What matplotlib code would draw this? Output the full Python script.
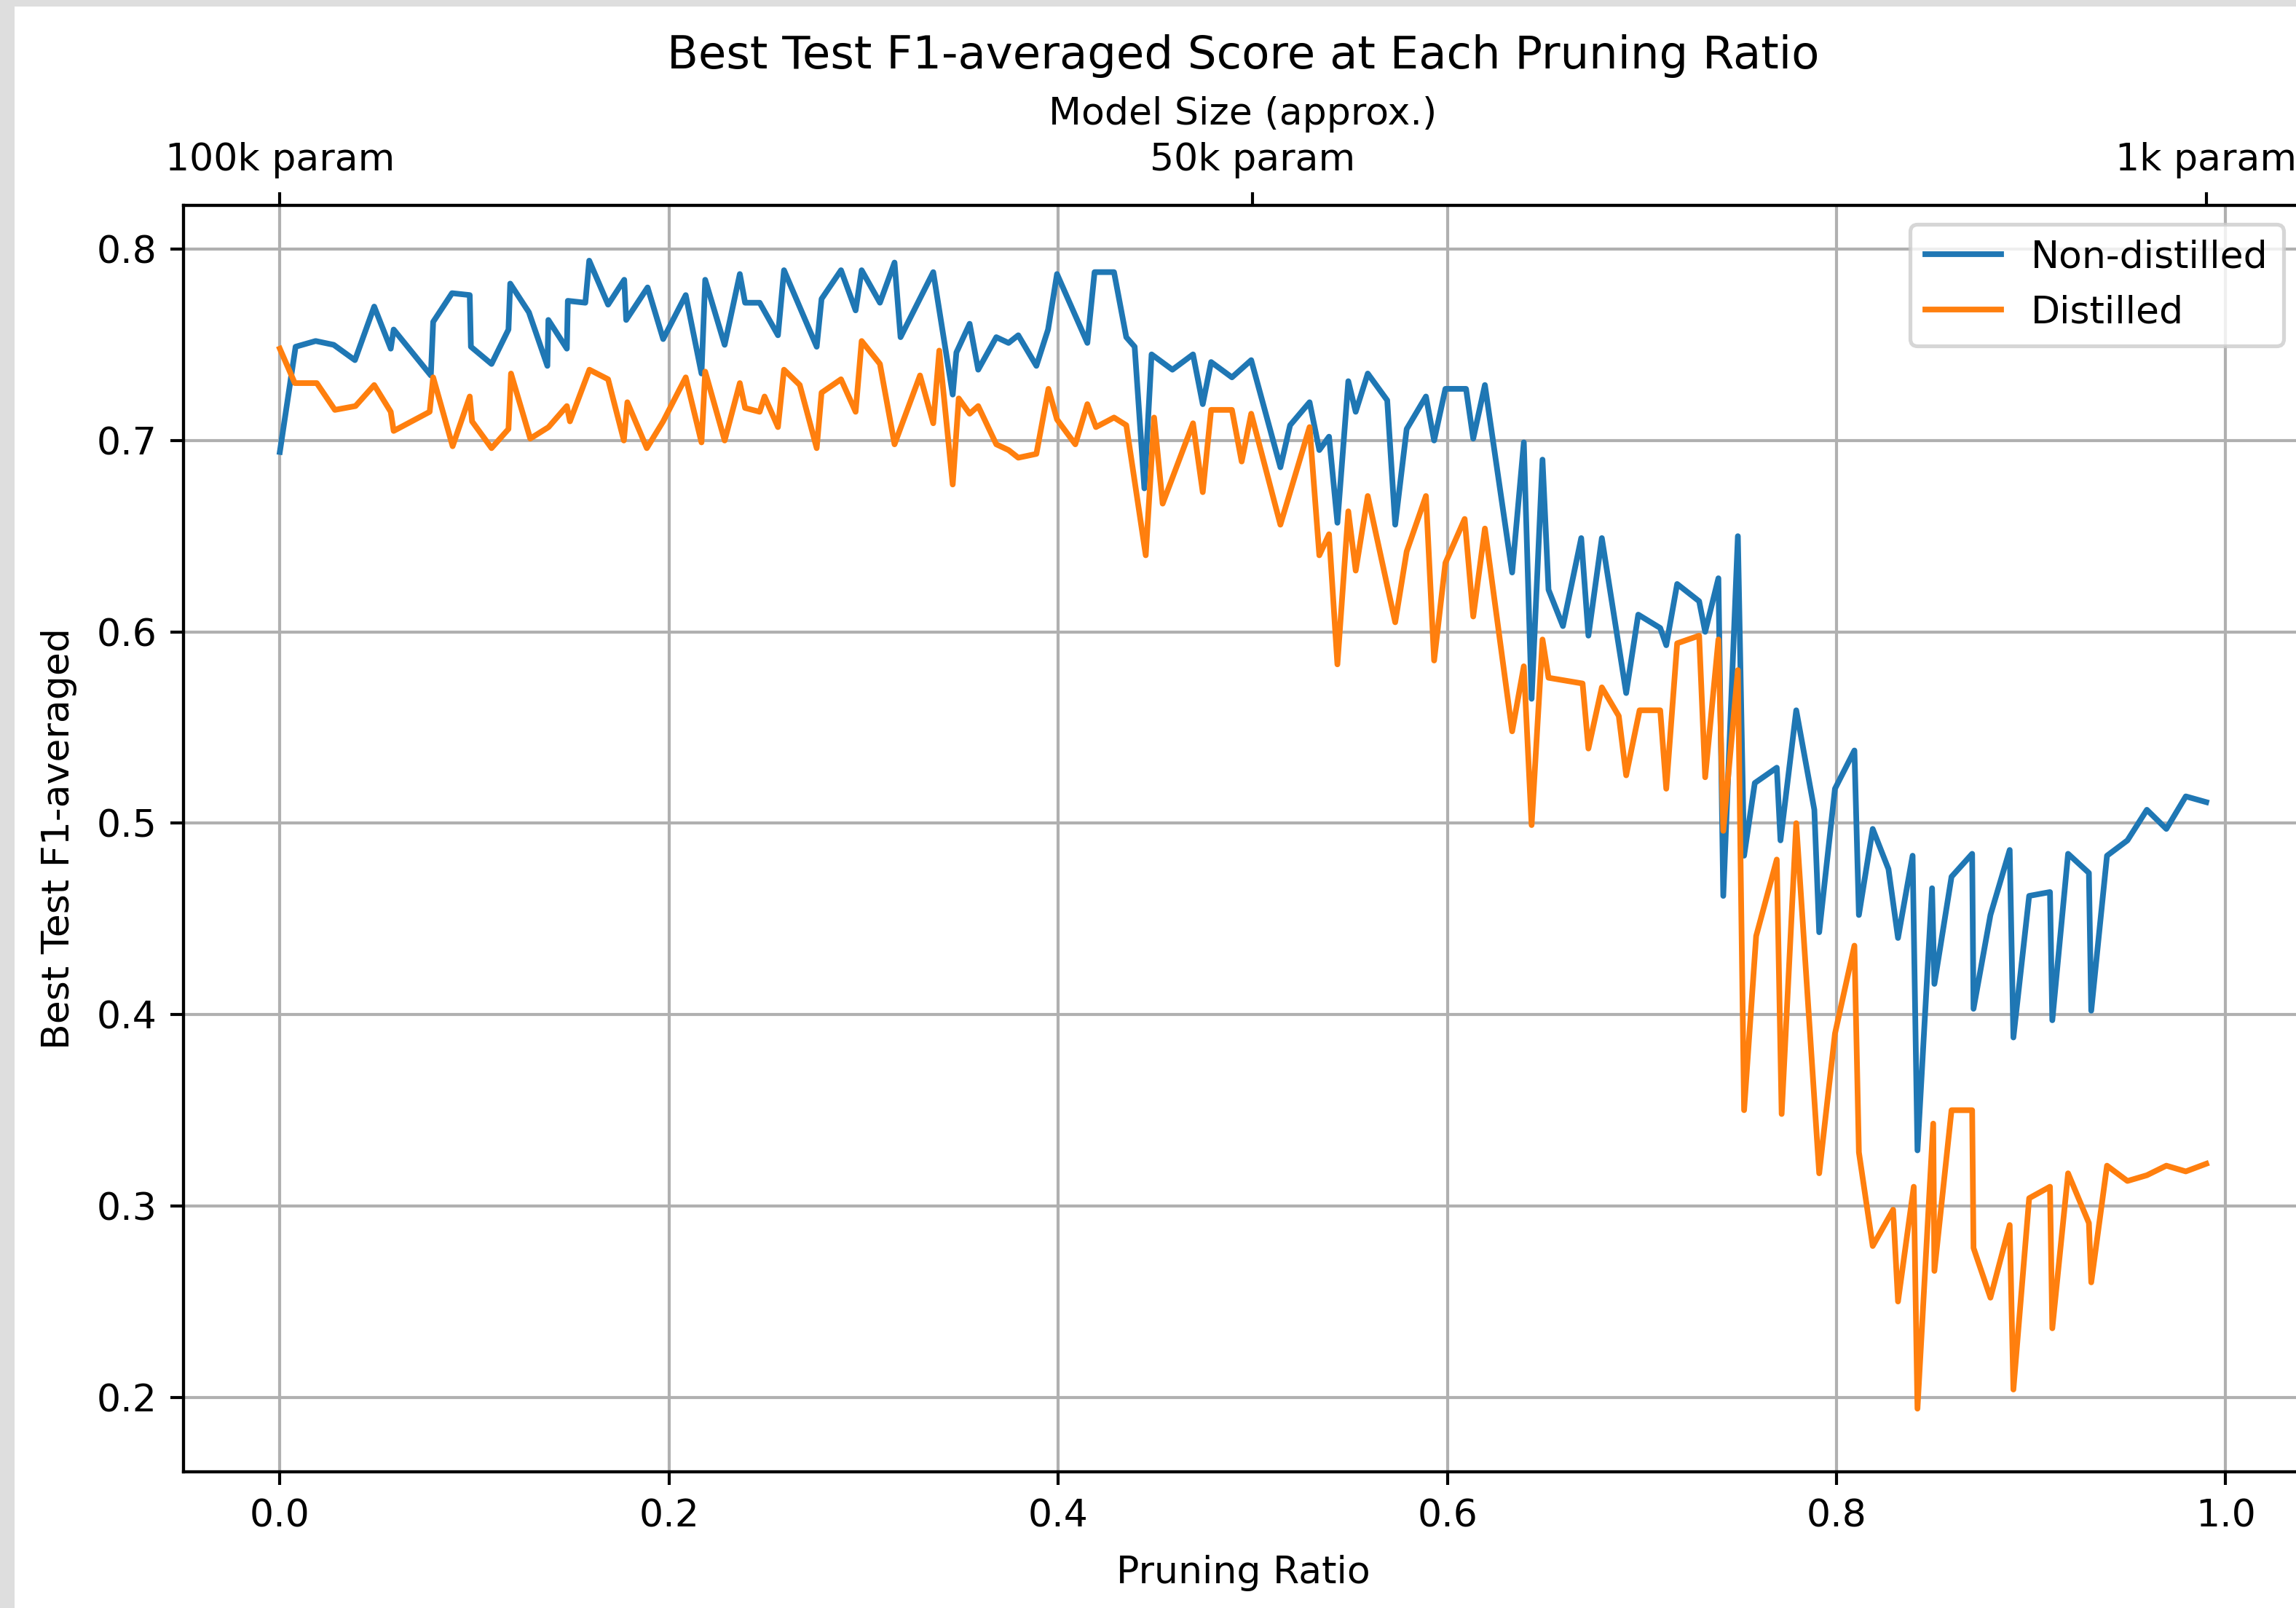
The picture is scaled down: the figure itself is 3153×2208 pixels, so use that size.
import matplotlib
matplotlib.use("Agg")
import matplotlib.pyplot as plt
from matplotlib.patches import Rectangle

# ---------------- data ----------------
nd_ratio = [0.0, 0.0081, 0.0184, 0.0277, 0.0386, 0.0485, 0.0570, 0.0585, 0.0776, 0.0788,
            0.0885, 0.0976, 0.0982, 0.1088, 0.1175, 0.1184, 0.1280, 0.1375, 0.1380, 0.1475,
            0.1480, 0.1570, 0.1590, 0.1687, 0.1770, 0.1780, 0.1890, 0.1970, 0.2086, 0.2167,
            0.2186, 0.2286, 0.2364, 0.2391, 0.2466, 0.2560, 0.2591, 0.2759, 0.2784, 0.2884,
            0.2959, 0.2990, 0.3084, 0.3159, 0.3190, 0.3358, 0.3458, 0.3477, 0.3545, 0.3589,
            0.3682, 0.3745, 0.3795, 0.3888, 0.3948, 0.3994, 0.4150, 0.4187, 0.4287, 0.4350,
            0.4393, 0.4443, 0.4480, 0.4587, 0.4693, 0.4743, 0.4786, 0.4893, 0.4992, 0.5142,
            0.5192, 0.5292, 0.5342, 0.5392, 0.5435, 0.5491, 0.5529, 0.5591, 0.5691, 0.5732,
            0.5791, 0.5890, 0.5932, 0.5990, 0.6096, 0.6133, 0.6193, 0.6333, 0.6393, 0.6433,
            0.6489, 0.6520, 0.6594, 0.6688, 0.6725, 0.6794, 0.6919, 0.6981, 0.7094, 0.7125,
            0.7181, 0.7294, 0.7325, 0.7393, 0.7418, 0.7493, 0.7525, 0.7580, 0.7693, 0.7712,
            0.7793, 0.7886, 0.7911, 0.7992, 0.8092, 0.8115, 0.8186, 0.8267, 0.8316, 0.8391,
            0.8416, 0.8491, 0.8503, 0.8591, 0.8697, 0.8704, 0.8791, 0.8890, 0.8909, 0.8990,
            0.9097, 0.9109, 0.9190, 0.9297, 0.9309, 0.9390, 0.9495, 0.9595, 0.9695, 0.9795,
            0.9900]
nd_f1 = [0.694, 0.749, 0.752, 0.750, 0.742, 0.770, 0.748, 0.758, 0.734, 0.762,
         0.777, 0.776, 0.749, 0.740, 0.758, 0.782, 0.767, 0.739, 0.763, 0.748,
         0.773, 0.772, 0.794, 0.771, 0.784, 0.763, 0.780, 0.753, 0.776, 0.735,
         0.784, 0.750, 0.787, 0.772, 0.772, 0.755, 0.789, 0.749, 0.774, 0.789,
         0.768, 0.789, 0.772, 0.793, 0.754, 0.788, 0.724, 0.746, 0.761, 0.737,
         0.754, 0.751, 0.755, 0.739, 0.758, 0.787, 0.751, 0.788, 0.788, 0.754,
         0.749, 0.675, 0.745, 0.737, 0.745, 0.719, 0.741, 0.733, 0.742, 0.686,
         0.708, 0.720, 0.695, 0.702, 0.657, 0.731, 0.715, 0.735, 0.721, 0.656,
         0.706, 0.723, 0.700, 0.727, 0.727, 0.701, 0.729, 0.631, 0.699, 0.565,
         0.690, 0.622, 0.603, 0.649, 0.598, 0.649, 0.568, 0.609, 0.602, 0.593,
         0.625, 0.616, 0.600, 0.628, 0.462, 0.650, 0.483, 0.521, 0.529, 0.491,
         0.559, 0.507, 0.443, 0.518, 0.538, 0.452, 0.497, 0.476, 0.440, 0.483,
         0.329, 0.466, 0.416, 0.472, 0.484, 0.403, 0.452, 0.486, 0.388, 0.462,
         0.464, 0.397, 0.484, 0.474, 0.402, 0.483, 0.491, 0.507, 0.497, 0.514,
         0.511]

d_ratio = [0.0, 0.0077, 0.0190, 0.0283, 0.0389, 0.0485, 0.0570, 0.0585, 0.0770, 0.0788,
           0.0888, 0.0976, 0.0988, 0.1088, 0.1175, 0.1188, 0.1287, 0.1381, 0.1475, 0.1491,
           0.1591, 0.1687, 0.1768, 0.1786, 0.1886, 0.1970, 0.2086, 0.2167, 0.2186, 0.2286,
           0.2364, 0.2391, 0.2466, 0.2491, 0.2560, 0.2591, 0.2672, 0.2759, 0.2784, 0.2884,
           0.2959, 0.2990, 0.3084, 0.3159, 0.3290, 0.3358, 0.3389, 0.3458, 0.3489, 0.3545,
           0.3589, 0.3682, 0.3745, 0.3795, 0.3888, 0.3950, 0.3994, 0.4088, 0.4150, 0.4194,
           0.4287, 0.4350, 0.4450, 0.4493, 0.4537, 0.4693, 0.4743, 0.4786, 0.4893, 0.4943,
           0.4992, 0.5142, 0.5292, 0.5342, 0.5392, 0.5435, 0.5491, 0.5529, 0.5591, 0.5732,
           0.5791, 0.5890, 0.5932, 0.5990, 0.6089, 0.6133, 0.6193, 0.6333, 0.6393, 0.6433,
           0.6489, 0.6520, 0.6695, 0.6725, 0.6794, 0.6881, 0.6919, 0.6988, 0.7094, 0.7125,
           0.7181, 0.7294, 0.7325, 0.7393, 0.7418, 0.7493, 0.7525, 0.7587, 0.7693, 0.7718,
           0.7793, 0.7911, 0.7992, 0.8092, 0.8115, 0.8186, 0.8291, 0.8316, 0.8397, 0.8416,
           0.8497, 0.8503, 0.8591, 0.8697, 0.8704, 0.8791, 0.8890, 0.8909, 0.8990, 0.9097,
           0.9109, 0.9190, 0.9297, 0.9309, 0.9390, 0.9495, 0.9595, 0.9695, 0.9795, 0.9900]
d_f1 = [0.748, 0.730, 0.730, 0.716, 0.718, 0.729, 0.715, 0.705, 0.715, 0.733,
        0.697, 0.723, 0.710, 0.696, 0.706, 0.735, 0.701, 0.707, 0.718, 0.710,
        0.737, 0.732, 0.700, 0.720, 0.696, 0.710, 0.733, 0.699, 0.736, 0.700,
        0.730, 0.717, 0.715, 0.723, 0.707, 0.737, 0.729, 0.696, 0.725, 0.732,
        0.715, 0.752, 0.740, 0.698, 0.734, 0.709, 0.747, 0.677, 0.722, 0.714,
        0.718, 0.698, 0.695, 0.691, 0.693, 0.727, 0.711, 0.698, 0.719, 0.707,
        0.712, 0.708, 0.640, 0.712, 0.667, 0.709, 0.673, 0.716, 0.716, 0.689,
        0.714, 0.656, 0.707, 0.640, 0.651, 0.583, 0.663, 0.632, 0.671, 0.605,
        0.642, 0.671, 0.585, 0.636, 0.659, 0.608, 0.654, 0.548, 0.582, 0.499,
        0.596, 0.576, 0.573, 0.539, 0.571, 0.556, 0.525, 0.559, 0.559, 0.518,
        0.594, 0.598, 0.524, 0.596, 0.496, 0.580, 0.350, 0.441, 0.481, 0.348,
        0.500, 0.317, 0.390, 0.436, 0.328, 0.279, 0.298, 0.250, 0.310, 0.194,
        0.343, 0.266, 0.350, 0.350, 0.278, 0.252, 0.290, 0.204, 0.304, 0.310,
        0.236, 0.317, 0.291, 0.260, 0.321, 0.313, 0.316, 0.321, 0.318, 0.322]

top_tick_pos = [0.0, 0.5, 0.99]
top_tick_labels = ["100k param", "50k param", "1k param"]

# ---------------- figure ----------------
W, H, DPI = 3154, 2208, 375
fig = plt.figure(figsize=(W / DPI, H / DPI), dpi=DPI, facecolor="white")

# light gray screenshot border (top / left)
border = "#dedede"
fig.patches.append(Rectangle((0, 1 - 9 / H), 1, 9 / H, transform=fig.transFigure,
                             facecolor=border, edgecolor="none", zorder=-10))
fig.patches.append(Rectangle((0, 0), 20 / W, 1, transform=fig.transFigure,
                             facecolor=border, edgecolor="none", zorder=-10))

left, right, bottom, top = 252 / W, 3162 / W, 1 - 2021 / H, 1 - 281.7 / H
ax = fig.add_axes([left, bottom, right - left, top - bottom])

ax.plot(nd_ratio, nd_f1, color="#1f77b4", label="Non-distilled")
ax.plot(d_ratio, d_f1, color="#ff7f0e", label="Distilled")

ax.set_xlim(-0.0495, 1.0395)
ax.set_ylim(0.161, 0.823)
ax.set_xlabel("Pruning Ratio", labelpad=5.2)
ax.set_ylabel("Best Test F1-averaged", labelpad=5.0)
ax.grid(True)
ax.legend(loc="upper right")

ax2 = ax.twiny()
ax2.set_xlim(ax.get_xlim())
ax2.set_xticks(top_tick_pos)
ax2.set_xticklabels(top_tick_labels)
ax2.set_xlabel("Model Size (approx.)", labelpad=4.7)

ax.set_title("Best Test F1-averaged Score at Each Pruning Ratio", pad=7.2)

fig.savefig("out.png", dpi=DPI, facecolor=fig.get_facecolor())
